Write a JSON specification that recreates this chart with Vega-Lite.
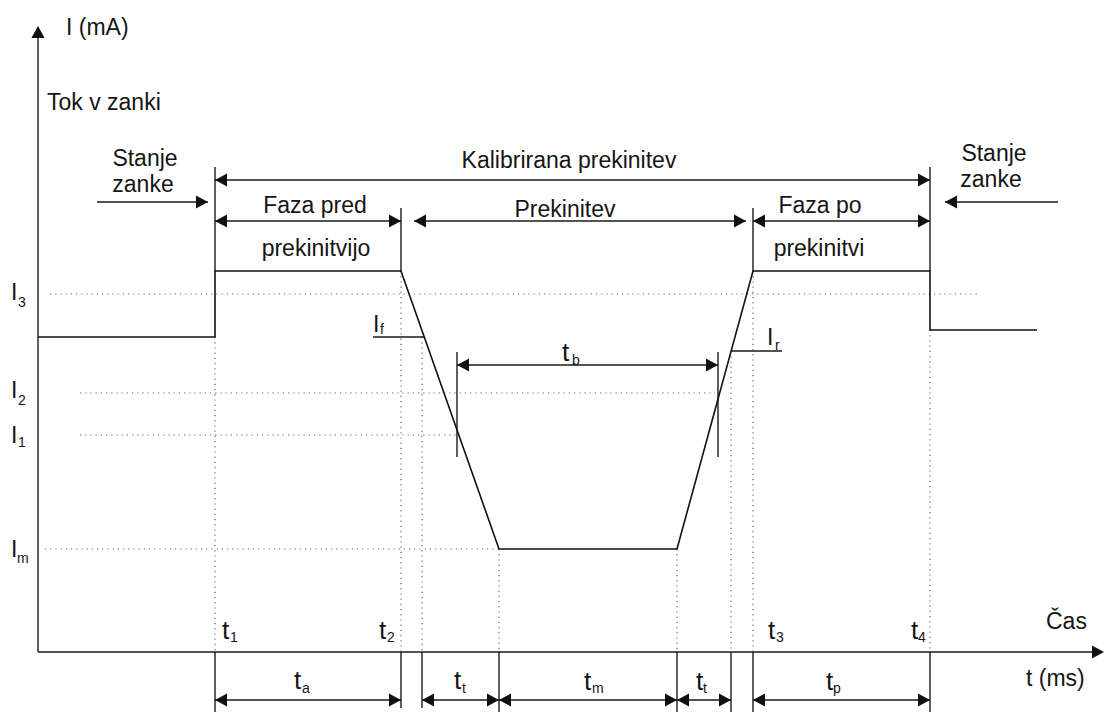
{
  "$schema": "https://vega.github.io/schema/vega-lite/v6.json",
  "width": 1106,
  "height": 714,
  "autosize": {"type": "none"},
  "padding": 0,
  "background": "white",
  "config": {"view": {"stroke": null}, "text": {"font": "Liberation Sans", "color": "#151515"}},
  "datasets": {
    "wave": [
      {"i": 0, "x": 38, "y": 337}, {"i": 1, "x": 215, "y": 337}, {"i": 2, "x": 215, "y": 271},
      {"i": 3, "x": 401, "y": 271}, {"i": 4, "x": 499, "y": 549}, {"i": 5, "x": 677, "y": 549},
      {"i": 6, "x": 753, "y": 271}, {"i": 7, "x": 930, "y": 271}, {"i": 8, "x": 930, "y": 330},
      {"i": 9, "x": 1037, "y": 330}
    ],
    "segs": [
      {"x": 38, "y": 36, "x2": 38, "y2": 652},
      {"x": 38, "y": 652, "x2": 1094, "y2": 652},
      {"x": 215, "y": 167, "x2": 215, "y2": 271},
      {"x": 930, "y": 167, "x2": 930, "y2": 271},
      {"x": 401, "y": 208, "x2": 401, "y2": 271},
      {"x": 753, "y": 208, "x2": 753, "y2": 271},
      {"x": 215, "y": 180, "x2": 930, "y2": 180},
      {"x": 215, "y": 221, "x2": 401, "y2": 221},
      {"x": 414, "y": 221, "x2": 746, "y2": 221},
      {"x": 753, "y": 221, "x2": 930, "y2": 221},
      {"x": 97, "y": 202, "x2": 208, "y2": 202},
      {"x": 945, "y": 202, "x2": 1058, "y2": 202},
      {"x": 373, "y": 337, "x2": 424, "y2": 337},
      {"x": 731, "y": 351, "x2": 782, "y2": 351},
      {"x": 457, "y": 365, "x2": 718, "y2": 365},
      {"x": 457, "y": 352, "x2": 457, "y2": 457},
      {"x": 718, "y": 352, "x2": 718, "y2": 457},
      {"x": 215, "y": 652, "x2": 215, "y2": 712},
      {"x": 401, "y": 652, "x2": 401, "y2": 708},
      {"x": 422, "y": 652, "x2": 422, "y2": 708},
      {"x": 499, "y": 652, "x2": 499, "y2": 712},
      {"x": 677, "y": 652, "x2": 677, "y2": 712},
      {"x": 731, "y": 652, "x2": 731, "y2": 712},
      {"x": 753, "y": 652, "x2": 753, "y2": 712},
      {"x": 930, "y": 652, "x2": 930, "y2": 712},
      {"x": 215, "y": 700, "x2": 401, "y2": 700},
      {"x": 422, "y": 700, "x2": 499, "y2": 700},
      {"x": 499, "y": 700, "x2": 677, "y2": 700},
      {"x": 677, "y": 700, "x2": 731, "y2": 700},
      {"x": 753, "y": 700, "x2": 930, "y2": 700}
    ],
    "dots": [
      {"x": 50, "y": 294, "x2": 977, "y2": 294},
      {"x": 80, "y": 393, "x2": 715, "y2": 393},
      {"x": 80, "y": 435, "x2": 458, "y2": 435},
      {"x": 45, "y": 549, "x2": 499, "y2": 549},
      {"x": 215, "y": 337, "x2": 215, "y2": 652},
      {"x": 401, "y": 271, "x2": 401, "y2": 652},
      {"x": 422, "y": 337, "x2": 422, "y2": 652},
      {"x": 499, "y": 549, "x2": 499, "y2": 652},
      {"x": 677, "y": 549, "x2": 677, "y2": 652},
      {"x": 731, "y": 351, "x2": 731, "y2": 652},
      {"x": 753, "y": 271, "x2": 753, "y2": 652},
      {"x": 930, "y": 330, "x2": 930, "y2": 652}
    ],
    "heads": [
      {"x": 38, "y": 26, "d": "u"}, {"x": 1104, "y": 652, "d": "r"},
      {"x": 215, "y": 180, "d": "l"}, {"x": 930, "y": 180, "d": "r"},
      {"x": 215, "y": 221, "d": "l"}, {"x": 401, "y": 221, "d": "r"},
      {"x": 414, "y": 221, "d": "l"}, {"x": 746, "y": 221, "d": "r"},
      {"x": 753, "y": 221, "d": "l"}, {"x": 930, "y": 221, "d": "r"},
      {"x": 208, "y": 202, "d": "r"}, {"x": 945, "y": 202, "d": "l"},
      {"x": 457, "y": 365, "d": "l"}, {"x": 718, "y": 365, "d": "r"},
      {"x": 215, "y": 700, "d": "l"}, {"x": 401, "y": 700, "d": "r"},
      {"x": 422, "y": 700, "d": "l"}, {"x": 499, "y": 700, "d": "r"},
      {"x": 499, "y": 700, "d": "l"}, {"x": 677, "y": 700, "d": "r"},
      {"x": 677, "y": 700, "d": "l"}, {"x": 731, "y": 700, "d": "r"},
      {"x": 753, "y": 700, "d": "l"}, {"x": 930, "y": 700, "d": "r"}
    ],
    "labc": [
      {"x": 569, "y": 168, "t": "Kalibrirana prekinitev"},
      {"x": 315, "y": 213, "t": "Faza pred"},
      {"x": 316, "y": 256, "t": "prekinitvijo"},
      {"x": 565, "y": 217, "t": "Prekinitev"},
      {"x": 820, "y": 213, "t": "Faza po"},
      {"x": 819, "y": 256, "t": "prekinitvi"},
      {"x": 145, "y": 166, "t": "Stanje"},
      {"x": 143, "y": 192, "t": "zanke"},
      {"x": 994, "y": 161, "t": "Stanje"},
      {"x": 991, "y": 187, "t": "zanke"}
    ],
    "labl": [
      {"x": 66, "y": 35, "t": "I (mA)"},
      {"x": 47, "y": 110, "t": "Tok v zanki"},
      {"x": 1046, "y": 629, "t": "Čas"},
      {"x": 1026, "y": 686, "t": "t (ms)"}
    ],
    "syms": [
      {"x": 11, "y": 300, "t": "I"}, {"x": 11, "y": 398, "t": "I"}, {"x": 11, "y": 443, "t": "I"},
      {"x": 11, "y": 557, "t": "I"}, {"x": 373, "y": 332, "t": "I"}, {"x": 767, "y": 345, "t": "I"},
      {"x": 222, "y": 639, "t": "t"}, {"x": 379, "y": 639, "t": "t"}, {"x": 768, "y": 639, "t": "t"},
      {"x": 911, "y": 639, "t": "t"}, {"x": 294, "y": 689, "t": "t"}, {"x": 454, "y": 689, "t": "t"},
      {"x": 584, "y": 690, "t": "t"}, {"x": 696, "y": 690, "t": "t"}, {"x": 826, "y": 690, "t": "t"},
      {"x": 562, "y": 361, "t": "t"}
    ],
    "subs": [
      {"x": 18, "y": 307, "t": "3"}, {"x": 18, "y": 405, "t": "2"}, {"x": 18, "y": 447, "t": "1"},
      {"x": 17, "y": 563, "t": "m"}, {"x": 380, "y": 334, "t": "f"}, {"x": 775, "y": 350, "t": "r"},
      {"x": 230, "y": 642, "t": "1"}, {"x": 387, "y": 642, "t": "2"}, {"x": 776, "y": 642, "t": "3"},
      {"x": 918, "y": 642, "t": "4"}, {"x": 302, "y": 693, "t": "a"}, {"x": 462, "y": 693, "t": "t"},
      {"x": 592, "y": 693, "t": "m"}, {"x": 703, "y": 693, "t": "t"}, {"x": 833, "y": 693, "t": "p"},
      {"x": 572, "y": 365, "t": "b"}
    ]
  },
  "layer": [
    {
      "data": {"name": "dots"},
      "mark": {"type": "rule", "stroke": "#666", "strokeWidth": 1.2, "strokeDash": [1.2, 4]},
      "encoding": {
        "x": {"field": "x", "type": "quantitative", "scale": {"domain": [0, 1106], "nice": false, "zero": false}, "axis": null},
        "y": {"field": "y", "type": "quantitative", "scale": {"domain": [0, 714], "nice": false, "zero": false, "reverse": true}, "axis": null},
        "x2": {"field": "x2"},
        "y2": {"field": "y2"}
      }
    },
    {
      "data": {"name": "segs"},
      "mark": {"type": "rule", "stroke": "#1a1a1a", "strokeWidth": 1.4},
      "encoding": {
        "x": {"field": "x", "type": "quantitative", "scale": {"domain": [0, 1106], "nice": false, "zero": false}, "axis": null},
        "y": {"field": "y", "type": "quantitative", "scale": {"domain": [0, 714], "nice": false, "zero": false, "reverse": true}, "axis": null},
        "x2": {"field": "x2"},
        "y2": {"field": "y2"}
      }
    },
    {
      "data": {"name": "wave"},
      "mark": {"type": "line", "stroke": "#111", "strokeWidth": 1.6},
      "encoding": {
        "x": {"field": "x", "type": "quantitative", "scale": {"domain": [0, 1106], "nice": false, "zero": false}, "axis": null},
        "y": {"field": "y", "type": "quantitative", "scale": {"domain": [0, 714], "nice": false, "zero": false, "reverse": true}, "axis": null},
        "order": {"field": "i", "type": "quantitative"}
      }
    },
    {
      "data": {"name": "heads"},
      "mark": {"type": "point", "filled": true, "fill": "#111", "stroke": null, "size": 144, "opacity": 1},
      "encoding": {
        "x": {"field": "x", "type": "quantitative", "scale": {"domain": [0, 1106], "nice": false, "zero": false}, "axis": null},
        "y": {"field": "y", "type": "quantitative", "scale": {"domain": [0, 714], "nice": false, "zero": false, "reverse": true}, "axis": null},
        "shape": {"field": "d", "type": "nominal", "legend": null,
          "scale": {"domain": ["l", "r", "u"], "range": ["M0,0L2,-1.1L2,1.1Z", "M0,0L-2,-1.1L-2,1.1Z", "M0,0L-1.1,2L1.1,2Z"]}}
      }
    },
    {
      "data": {"name": "labc"},
      "mark": {"type": "text", "fontSize": 23, "align": "center", "baseline": "alphabetic"},
      "encoding": {
        "x": {"field": "x", "type": "quantitative", "scale": {"domain": [0, 1106], "nice": false, "zero": false}, "axis": null},
        "y": {"field": "y", "type": "quantitative", "scale": {"domain": [0, 714], "nice": false, "zero": false, "reverse": true}, "axis": null},
        "text": {"field": "t"}
      }
    },
    {
      "data": {"name": "labl"},
      "mark": {"type": "text", "fontSize": 23, "align": "left", "baseline": "alphabetic"},
      "encoding": {
        "x": {"field": "x", "type": "quantitative", "scale": {"domain": [0, 1106], "nice": false, "zero": false}, "axis": null},
        "y": {"field": "y", "type": "quantitative", "scale": {"domain": [0, 714], "nice": false, "zero": false, "reverse": true}, "axis": null},
        "text": {"field": "t"}
      }
    },
    {
      "data": {"name": "syms"},
      "transform": [{"filter": "datum.t == 'I'"}],
      "mark": {"type": "text", "fontSize": 23, "align": "left", "baseline": "alphabetic"},
      "encoding": {
        "x": {"field": "x", "type": "quantitative", "scale": {"domain": [0, 1106], "nice": false, "zero": false}, "axis": null},
        "y": {"field": "y", "type": "quantitative", "scale": {"domain": [0, 714], "nice": false, "zero": false, "reverse": true}, "axis": null},
        "text": {"field": "t"}
      }
    },
    {
      "data": {"name": "syms"},
      "transform": [{"filter": "datum.t == 't'"}],
      "mark": {"type": "text", "fontSize": 26, "align": "left", "baseline": "alphabetic"},
      "encoding": {
        "x": {"field": "x", "type": "quantitative", "scale": {"domain": [0, 1106], "nice": false, "zero": false}, "axis": null},
        "y": {"field": "y", "type": "quantitative", "scale": {"domain": [0, 714], "nice": false, "zero": false, "reverse": true}, "axis": null},
        "text": {"field": "t"}
      }
    },
    {
      "data": {"name": "subs"},
      "mark": {"type": "text", "fontSize": 14, "align": "left", "baseline": "alphabetic"},
      "encoding": {
        "x": {"field": "x", "type": "quantitative", "scale": {"domain": [0, 1106], "nice": false, "zero": false}, "axis": null},
        "y": {"field": "y", "type": "quantitative", "scale": {"domain": [0, 714], "nice": false, "zero": false, "reverse": true}, "axis": null},
        "text": {"field": "t"}
      }
    }
  ]
}
